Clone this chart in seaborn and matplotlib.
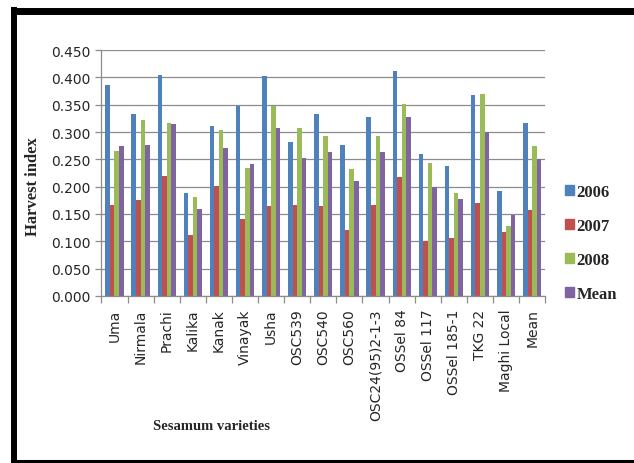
import numpy as np
import pandas as pd
import matplotlib
matplotlib.use("Agg")
import matplotlib.pyplot as plt
from matplotlib.lines import Line2D
from matplotlib.ticker import FixedLocator, FormatStrFormatter
import seaborn as sns

varieties = ["Uma", "Nirmala", "Prachi", "Kalika", "Kanak", "Vinayak", "Usha",
             "OSC539", "OSC540", "OSC560", "OSC24(95)2-1-3", "OSSel 84",
             "OSSel 117", "OSSel 185-1", "TKG 22", "Maghi Local", "Mean"]
hi_2006 = [0.386, 0.333, 0.405, 0.189, 0.311, 0.348, 0.403, 0.282, 0.333,
           0.277, 0.328, 0.411, 0.259, 0.237, 0.367, 0.192, 0.317]
hi_2007 = [0.167, 0.175, 0.220, 0.111, 0.202, 0.140, 0.165, 0.167, 0.165,
           0.120, 0.167, 0.218, 0.100, 0.106, 0.170, 0.117, 0.157]
hi_2008 = [0.266, 0.322, 0.316, 0.181, 0.303, 0.234, 0.348, 0.307, 0.293,
           0.232, 0.293, 0.352, 0.243, 0.189, 0.370, 0.128, 0.274]
hi_mean = [0.275, 0.277, 0.314, 0.159, 0.271, 0.242, 0.307, 0.253, 0.264,
           0.210, 0.264, 0.328, 0.200, 0.178, 0.300, 0.148, 0.250]
series_names = ["2006", "2007", "2008", "Mean"]
series_colors = ["#4F81BD", "#C0504D", "#9BBB59", "#8064A2"]
y_ticks = [0.0, 0.05, 0.10, 0.15, 0.20, 0.25, 0.30, 0.35, 0.40, 0.45]

records = []
for name, vals in zip(series_names, [hi_2006, hi_2007, hi_2008, hi_mean]):
    for v, val in zip(varieties, vals):
        records.append({"variety": v, "series": name, "hi": val})
df = pd.DataFrame(records)

sns.set_theme(style="white")
plt.rcParams["font.family"] = ["DejaVu Sans"]

fig = plt.figure(figsize=(6.34, 4.64), dpi=100)
ax = fig.add_axes([0.160, 0.360, 0.700, 0.530])

sns.barplot(data=df, x="variety", y="hi", hue="series", order=varieties,
            hue_order=series_names, palette=series_colors, saturation=1,
            width=0.70, dodge=True, ax=ax, legend=False, linewidth=0,
            errorbar=None)

ax.set_ylim(0, 0.45)
ax.set_xlim(-0.5, len(varieties) - 0.5)
ax.yaxis.set_major_locator(FixedLocator(y_ticks))
ax.yaxis.set_major_formatter(FormatStrFormatter("%.3f"))
ax.yaxis.grid(True, color="#8c8c8c", linewidth=0.9)
ax.set_axisbelow(True)

for side in ["top", "right"]:
    ax.spines[side].set_visible(False)
for side in ["left", "bottom"]:
    ax.spines[side].set_color("#8c8c8c")
    ax.spines[side].set_linewidth(0.9)

ax.tick_params(axis="y", which="major", direction="out", length=4,
               width=0.9, color="#8c8c8c", labelsize=10, pad=4,
               labelcolor="#262626", left=True)
ax.set_xticks(np.arange(len(varieties)))
ax.set_xticks(np.arange(len(varieties) + 1) - 0.5, minor=True)
ax.set_xticklabels(varieties, rotation=90, fontsize=10, color="#262626")
ax.tick_params(axis="x", which="major", length=0, pad=9)
ax.tick_params(axis="x", which="minor", direction="out", length=5,
               width=0.9, color="#8c8c8c", bottom=True)

ax.set_xlabel("")
ax.set_ylabel("")
fig.text(0.052, 0.598, "Harvest index", rotation=90, ha="center",
         va="center", fontsize=12, fontweight="bold",
         family="Liberation Serif")
fig.text(0.333, 0.080, "Sesamum varieties", ha="center", va="center",
         fontsize=10.5, fontweight="bold", family="Liberation Serif")

handles = [plt.Rectangle((0, 0), 1, 1, color=c) for c in series_colors]
fig.legend(handles, series_names, loc="center left",
           bbox_to_anchor=(0.878, 0.474), frameon=False, borderpad=0,
           handlelength=0.55, handleheight=0.55, handletextpad=0.15,
           labelspacing=1.08,
           prop={"family": "Liberation Serif", "weight": "bold", "size": 12})

# heavy frame around the figure (left, top, bottom)
W, H = 634.0, 464.0
frame = [
    ((14 / W, 14 / W), (1 - 8 / H, 1 - 464 / H), 4.3),
    ((11 / W, 1.0), (1 - 11.5 / H, 1 - 11.5 / H), 5.0),
    ((11 / W, 1.0), (1 - 461.5 / H, 1 - 461.5 / H), 2.2),
]
for xs, ys, lw in frame:
    fig.add_artist(Line2D(xs, ys, transform=fig.transFigure, color="black",
                          linewidth=lw, solid_capstyle="butt"))

fig.savefig("out.png", dpi=100, facecolor="white")
